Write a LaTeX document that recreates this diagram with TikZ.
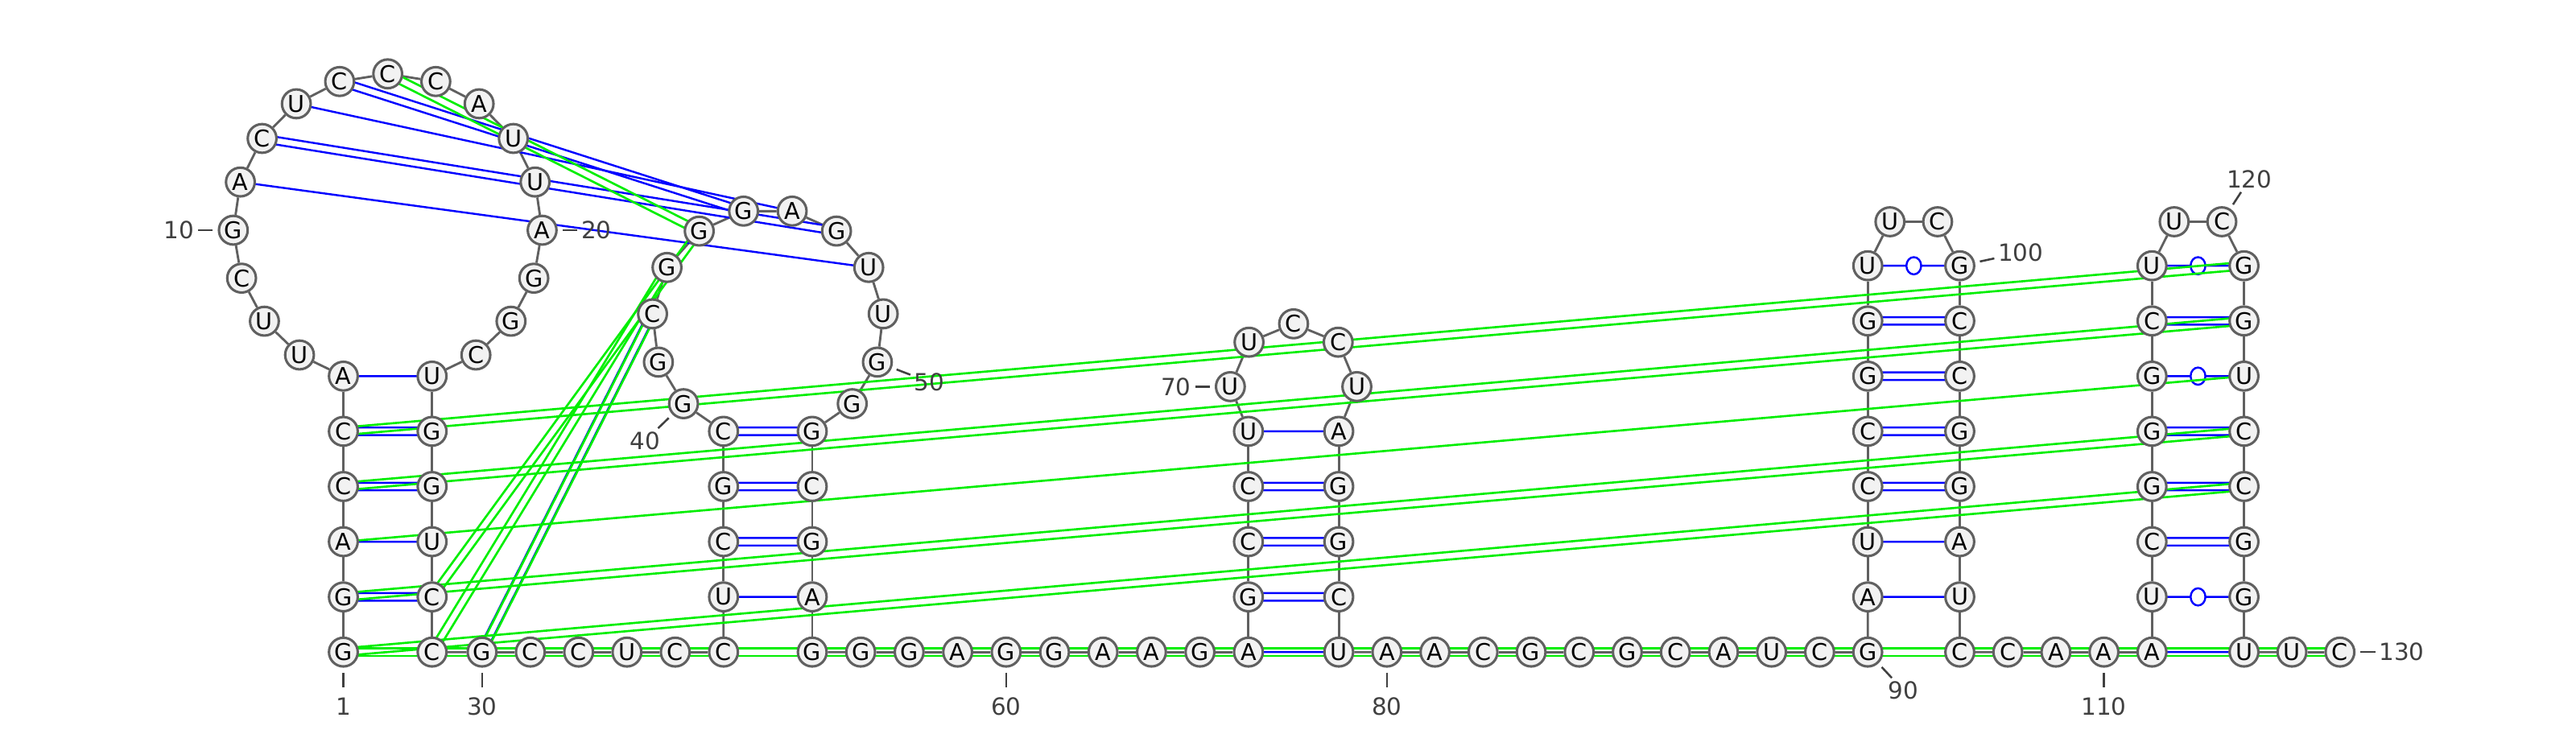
\documentclass[tikz,border=0pt]{standalone}
\usepackage{fontspec}
\setmainfont{DejaVu Sans}
\usepackage{tikz}
\usetikzlibrary{calc,shapes.geometric}

\definecolor{ntgray}{RGB}{96,96,96}
\definecolor{ntfill}{RGB}{242,242,242}
\definecolor{numgray}{RGB}{64,64,64}
\definecolor{altgreen}{RGB}{0,238,0}

\pgfdeclarelayer{bg}
\pgfsetlayers{bg,main}

\tikzset{
  nt/.style={circle, draw=ntgray, fill=ntfill, line width=0.3mm, minimum size=3.5mm, inner sep=0pt, font=\fontsize{8}{9}\selectfont},
  bb/.style={ntgray, line width=0.28mm},
  bp/.style={blue, line width=0.24mm},
  pk/.style={altgreen, line width=0.26mm},
  wob/.style={ellipse, draw=blue, fill=white, line width=0.24mm, minimum width=1.8mm, minimum height=2.1mm, inner sep=0pt},
  num/.style={text=numgray, font=\fontsize{8.2}{9}\selectfont, inner sep=0.3mm},
  tick/.style={numgray, line width=0.25mm}
}

% double pair line: [shift]{style}{from}{to}
\newcommand\pairdbl[4][0]{%
  \draw[#2] ($(n#3.center)!{#1mm+0.46mm}!90:(n#4.center)$) -- ($(n#4.center)!{#1mm+0.46mm}!-90:(n#3.center)$);
  \draw[#2] ($(n#3.center)!{#1mm-0.46mm}!90:(n#4.center)$) -- ($(n#4.center)!{#1mm-0.46mm}!-90:(n#3.center)$);}

% position number: [distance]{nucleotide}{angle}{text}
\newcommand\numlab[4][22]{%
  \pgfmathsetmacro\labang{180-#3}
  \draw[tick] ($(n#2)+(#3:12.5)$) -- ($(n#2)+(#3:21.5)$);
  \node[num, anchor=\labang] (l#2) at ($(n#2)+(#3:#1)$) {#4};}

\begin{document}
\begin{tikzpicture}[x=0.2mm, y=-0.2mm]
\useasboundingbox (0,0) rectangle (1568,444);

% stem 1 and its loop
\foreach \b [count=\k from 0] in {G,G,A,C,C,A}
  {\pgfmathtruncatemacro\i{\k+1}\node[nt] (n\i) at (209,{397-33.6*\k}) {\b};}
\foreach \b [count=\k] in {U,U,C,G,A,C,U,C,C,C,A,U,U,A,G,G,C}
  {\pgfmathtruncatemacro\i{\k+6}\node[nt] (n\i) at ($(236,138.96)+({106.69+18.146*\k}:94)$) {\b};}
\foreach \b [count=\k from 0] in {U,G,G,U,C,C}
  {\pgfmathtruncatemacro\i{\k+24}\node[nt] (n\i) at (263,{229+33.6*\k}) {\b};}

% 30-35
\foreach \b [count=\k from 0] in {G,C,C,U,C,C}
  {\pgfmathtruncatemacro\i{\k+30}\node[nt] (n\i) at ({293.4+29.4*\k},397) {\b};}

% stem 2 and its loop
\foreach \b [count=\k] in {U,C,G,C}
  {\pgfmathtruncatemacro\i{\k+35}\node[nt] (n\i) at (440.4,{397-33.6*\k}) {\b};}
\foreach \b [count=\k] in {G,G,C,G,G,G,A,G,U,U,G,G}
  {\pgfmathtruncatemacro\i{\k+39}\node[nt] (n\i) at ($(467.4,197.47)+({112.52+24.227*\k}:70.5)$) {\b};}
\foreach \b [count=\k from 0] in {G,C,G,A,G}
  {\pgfmathtruncatemacro\i{\k+52}\node[nt] (n\i) at (494.4,{262.6+33.6*\k}) {\b};}

% 57-65
\foreach \b [count=\k] in {G,G,A,G,G,A,A,G,A}
  {\pgfmathtruncatemacro\i{\k+56}\node[nt] (n\i) at ({494.4+29.5*\k},397) {\b};}

% stem 3 and its loop
\foreach \b [count=\k] in {G,C,C,U}
  {\pgfmathtruncatemacro\i{\k+65}\node[nt] (n\i) at (759.9,{397-33.6*\k}) {\b};}
\foreach \b [count=\k] in {U,U,C,C,U}
  {\pgfmathtruncatemacro\i{\k+69}\node[nt] (n\i) at ($(787.4,235.65)+({135.58+44.805*\k}:38.5)$) {\b};}
\foreach \b [count=\k from 0] in {A,G,G,C,U}
  {\pgfmathtruncatemacro\i{\k+75}\node[nt] (n\i) at (814.9,{262.6+33.6*\k}) {\b};}

% 80-90
\foreach \b [count=\k] in {A,A,C,G,C,G,C,A,U,C,G}
  {\pgfmathtruncatemacro\i{\k+79}\node[nt] (n\i) at ({814.9+29.27*\k},397) {\b};}

% stem 4
\foreach \b [count=\k] in {A,U,C,C,G,G,U}
  {\pgfmathtruncatemacro\i{\k+90}\node[nt] (n\i) at (1136.9,{397-33.6*\k}) {\b};}
\node[nt] (n98) at (1150.4,135) {U};
\node[nt] (n99) at (1179.4,135) {C};
\foreach \b [count=\k from 0] in {G,C,C,G,G,A,U,C}
  {\pgfmathtruncatemacro\i{\k+100}\node[nt] (n\i) at (1192.9,{161.8+33.6*\k}) {\b};}

% 108-111
\foreach \b [count=\k] in {C,A,A,A}
  {\pgfmathtruncatemacro\i{\k+107}\node[nt] (n\i) at ({1192.9+29.25*\k},397) {\b};}

% stem 5
\foreach \b [count=\k] in {U,C,G,G,G,C,U}
  {\pgfmathtruncatemacro\i{\k+111}\node[nt] (n\i) at (1309.9,{397-33.6*\k}) {\b};}
\node[nt] (n119) at (1323.4,135) {U};
\node[nt] (n120) at (1352.4,135) {C};
\foreach \b [count=\k from 0] in {G,G,U,C,C,G,G,U}
  {\pgfmathtruncatemacro\i{\k+121}\node[nt] (n\i) at (1365.9,{161.8+33.6*\k}) {\b};}

% 129-130
\foreach \b [count=\k] in {U,C}
  {\pgfmathtruncatemacro\i{\k+128}\node[nt] (n\i) at ({1365.9+29.2*\k},397) {\b};}

\begin{pgfonlayer}{bg}
  % backbone
  \foreach \i [evaluate=\i as \j using int(\i-1)] in {2,...,130}
    \draw[bb] (n\j) -- (n\i);
  % pairs
  \foreach \a/\b in {3/27,6/24,36/55,65/79,69/75,91/106,92/105,111/128,11/48,13/46}
    \draw[bp] (n\a.center) -- (n\b.center);
  \foreach \a/\b in {2/28,4/26,5/25,37/54,38/53,39/52,66/78,67/77,68/76,93/104,94/103,95/102,96/101,113/126,114/125,115/124,117/122,12/47,14/45}
    \pairdbl{bp}{\a}{\b};
  \pairdbl[0.07]{bp}{30}{42};
  \foreach \a/\b in {97/100,112/127,116/123,118/121}
    {\draw[bp] (n\a.center) -- (n\b.center);
     \node[wob] (w\a) at ($(n\a)!0.5!(n\b)$) {};}
  % second set of pairs
  \foreach \a/\b in {1/125,2/124,4/122,5/121,15/44,28/44,29/43,30/42,1/130}
    \pairdbl{pk}{\a}{\b};
  \draw[pk] (n3.center) -- (n123.center);
\end{pgfonlayer}

% numbering
\numlab[26]{1}{90}{1}
\numlab{10}{180}{10}
\numlab{20}{0}{20}
\numlab[26]{30}{90}{30}
\numlab{40}{136}{40}
\numlab{50}{21}{50}
\numlab[26]{60}{90}{60}
\numlab{70}{180}{70}
\numlab[26]{80}{90}{80}
\numlab{90}{47}{90}
\numlab{100}{-12}{100}
\numlab[26]{110}{90}{110}
\numlab{120}{-57}{120}
\numlab{130}{0}{130}
\end{tikzpicture}
\end{document}
